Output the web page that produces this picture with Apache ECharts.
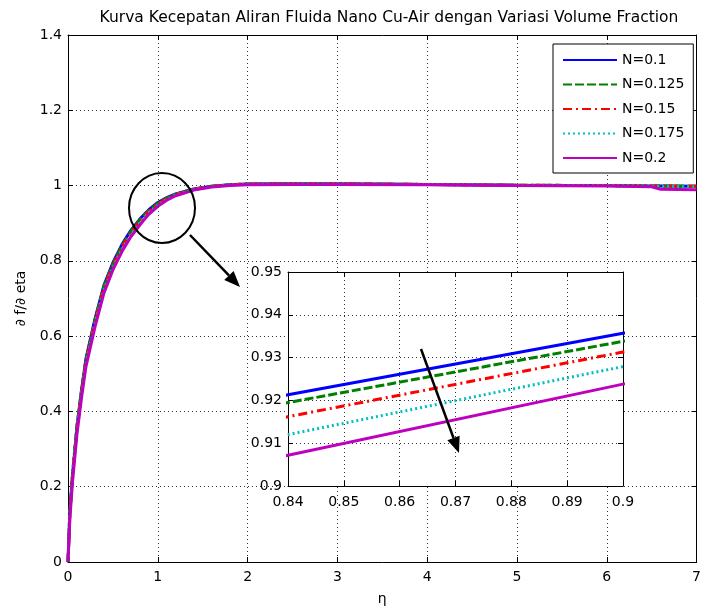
<!DOCTYPE html>
<html>
<head>
<meta charset="utf-8">
<script src="https://cdn.jsdelivr.net/npm/echarts@6/dist/echarts.min.js"></script>
<style>
  html, body { margin: 0; padding: 0; background: #fff; }
  #chart { width: 704px; height: 613px; }
</style>
</head>
<body>
<div id="chart"></div>
<script>
// eta values (x) shared by every curve
var eta = [0, 0.02, 0.05, 0.1, 0.15, 0.2, 0.3, 0.4, 0.5, 0.6, 0.7, 0.8, 0.84, 0.9, 1.0, 1.1, 1.2, 1.4, 1.6, 1.8, 2.0, 2.5, 3, 4, 5, 6, 6.5, 6.6, 7];

// df/deta for each volume fraction N
var n010 = [0, 0.13, 0.23, 0.36, 0.455, 0.54, 0.645, 0.735, 0.795, 0.843, 0.881, 0.911, 0.9213, 0.9357, 0.955, 0.968, 0.978, 0.991, 0.998, 1.002, 1.004, 1.005, 1.005, 1.003, 1.001, 1.0, 0.999, 0.999, 0.998];
var n0125 = [0, 0.135, 0.235, 0.362, 0.455, 0.538, 0.643, 0.733, 0.792, 0.840, 0.878, 0.909, 0.9195, 0.9338, 0.953, 0.967, 0.977, 0.991, 0.998, 1.002, 1.004, 1.005, 1.005, 1.003, 1.001, 1.0, 0.999, 0.999, 0.998];
var n015 = [0, 0.128, 0.228, 0.356, 0.45, 0.533, 0.638, 0.728, 0.788, 0.836, 0.874, 0.905, 0.9162, 0.9313, 0.951, 0.965, 0.976, 0.990, 0.998, 1.002, 1.004, 1.005, 1.005, 1.003, 1.001, 1.0, 0.999, 0.999, 0.998];
var n0175 = [0, 0.122, 0.222, 0.35, 0.444, 0.527, 0.632, 0.722, 0.782, 0.83, 0.869, 0.9, 0.912, 0.9279, 0.948, 0.963, 0.975, 0.989, 0.997, 1.001, 1.003, 1.004, 1.004, 1.003, 1.001, 1.0, 0.999, 0.998, 0.997];
var n020 = [0, 0.112, 0.212, 0.34, 0.435, 0.519, 0.624, 0.714, 0.776, 0.824, 0.864, 0.895, 0.9072, 0.9238, 0.945, 0.961, 0.973, 0.988, 0.996, 1.0, 1.002, 1.003, 1.003, 1.002, 1.0, 0.999, 0.997, 0.99, 0.989];

var names = ['N=0.1', 'N=0.125', 'N=0.15', 'N=0.175', 'N=0.2'];
var curves = [n010, n0125, n015, n0175, n020];

// axis ranges [min, max, interval]
var mainX = [0, 7, 1];
var mainY = [0, 1.4, 0.2];
var zoomX = [0.84, 0.9, 0.01];
var zoomY = [0.9, 0.95, 0.01];

var colors = ['#0000ff', '#008000', '#ff0000', '#00bfbf', '#bf00bf'];
var dashes = ['solid', [9, 3], [9, 4, 2, 4], [2, 3], 'solid'];
var FONT = 'DejaVu Sans';

var chart = echarts.init(document.getElementById('chart'));

function pairs(ys) {
  return eta.map(function (x, i) { return [x, ys[i]]; });
}

function trimNum(v) {
  return String(parseFloat(v.toFixed(2)));
}

function axis(kind, gridIndex, range, pos, labels, z) {
  return {
    type: 'value',
    gridIndex: gridIndex,
    position: pos,
    min: range[0],
    max: range[1],
    interval: range[2],
    z: z,
    axisLine: { show: true, onZero: false, lineStyle: { color: '#000', width: 1 } },
    axisTick: { show: true, inside: true, length: 5, lineStyle: { color: '#000' } },
    axisLabel: {
      show: labels,
      color: '#000',
      fontFamily: FONT,
      fontSize: 14,
      margin: kind === 'x' ? 8 : 6,
      formatter: trimNum
    },
    splitLine: {
      show: labels,
      lineStyle: { color: '#333', type: [1, 3], width: 1 }
    }
  };
}

var xAxes = [
  axis('x', 0, mainX, 'bottom', true, 0),
  axis('x', 0, mainX, 'top', false, 0),
  axis('x', 1, zoomX, 'bottom', true, 11),
  axis('x', 1, zoomX, 'top', false, 11)
];
xAxes[0].name = 'η';
xAxes[0].nameLocation = 'middle';
xAxes[0].nameGap = 30;
xAxes[0].nameTextStyle = { color: '#000', fontFamily: FONT, fontSize: 14 };
xAxes[2].axisLabel.margin = 9;

var yAxes = [
  axis('y', 0, mainY, 'left', true, 0),
  axis('y', 0, mainY, 'right', false, 0),
  axis('y', 1, zoomY, 'left', true, 11),
  axis('y', 1, zoomY, 'right', false, 11)
];
yAxes[0].name = '∂ f/∂ eta';
yAxes[0].nameLocation = 'middle';
yAxes[0].nameGap = 35;
yAxes[0].nameTextStyle = { color: '#000', fontFamily: FONT, fontSize: 14 };

var series = [];
curves.forEach(function (ys, i) {
  var style = { color: colors[i], width: 3, type: dashes[i], cap: 'butt' };
  series.push({
    name: names[i], type: 'line', xAxisIndex: 0, yAxisIndex: 0,
    data: pairs(ys), symbol: 'none', lineStyle: style, itemStyle: { color: colors[i] },
    animation: false, z: 3
  });
  series.push({
    name: names[i], type: 'line', xAxisIndex: 2, yAxisIndex: 2,
    data: pairs(ys), symbol: 'none', lineStyle: style, itemStyle: { color: colors[i] },
    clip: true, animation: false, z: 12
  });
});

// arrow annotation: a line with a filled head
function arrow(x1, y1, x2, y2) {
  var dx = x2 - x1, dy = y2 - y1;
  var len = Math.sqrt(dx * dx + dy * dy);
  var ux = dx / len, uy = dy / len;
  var hl = 16, hw = 6.5;
  var bx = x2 - ux * hl, by = y2 - uy * hl;
  return [{
    type: 'line', z: 100,
    shape: { x1: x1, y1: y1, x2: bx, y2: by },
    style: { stroke: '#000', lineWidth: 2.5 }
  }, {
    type: 'polygon', z: 100,
    shape: { points: [[x2, y2], [bx - uy * hw, by + ux * hw], [bx + uy * hw, by - ux * hw]] },
    style: { fill: '#000' }
  }];
}

var graphics = [{
  type: 'ellipse', z: 100,
  shape: { cx: 162, cy: 208, rx: 33, ry: 35 },
  style: { fill: 'none', stroke: '#000', lineWidth: 2 }
}].concat(arrow(190, 235, 240, 287), arrow(421, 349, 459, 453));

var option = {
  backgroundColor: '#fff',
  animation: false,
  title: {
    text: 'Kurva Kecepatan Aliran Fluida Nano Cu-Air dengan Variasi Volume Fraction',
    left: 384,
    textAlign: 'center',
    top: 5,
    textStyle: { color: '#000', fontFamily: FONT, fontSize: 15.5, fontWeight: 'normal' }
  },
  legend: {
    data: names,
    orient: 'vertical',
    left: 553,
    top: 44,
    padding: [9, 9, 8, 9],
    itemWidth: 54,
    itemHeight: 14,
    itemGap: 10.5,
    borderColor: '#000',
    borderWidth: 1,
    backgroundColor: '#fff',
    itemStyle: { opacity: 0, color: 'rgba(0,0,0,0)', borderWidth: 0 },
    z: 50,
    textStyle: { color: '#000', fontFamily: FONT, fontSize: 14 }
  },
  grid: [
    { left: 68, right: 6, top: 35, bottom: 51, show: false },
    { left: 288, right: 81, top: 272, bottom: 127, show: true, backgroundColor: '#fff', borderWidth: 0, z: 10 }
  ],
  xAxis: xAxes,
  yAxis: yAxes,
  series: series,
  graphic: graphics
};

chart.setOption(option);
</script>
</body>
</html>
